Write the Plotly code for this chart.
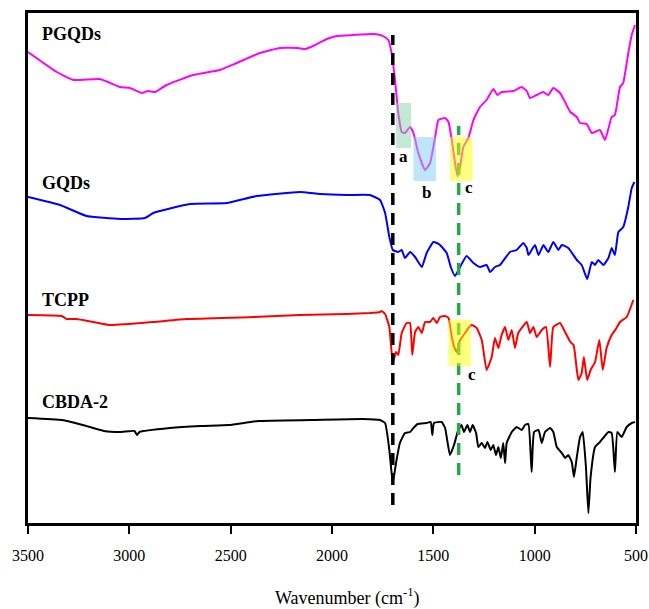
import plotly.graph_objects as go

# ---------------- data (transmittance, arbitrary offset units) ----------------
pgqds_wn = [3500, 3358, 3276, 3145, 3046, 2997, 2939, 2908, 2873, 2816, 2685, 2553, 2470, 2355,
            2257, 2168, 2133, 2093, 2026, 1977, 1896, 1798, 1763, 1740, 1722, 1706, 1689, 1673,
            1656, 1640, 1615, 1598, 1574, 1541, 1516, 1491, 1475, 1442, 1425, 1409, 1393, 1381,
            1368, 1352, 1327, 1302, 1270, 1237, 1204, 1184, 1163, 1105, 1064, 1039, 1023, 990,
            957, 933, 908, 875, 850, 824, 792, 776, 743, 718, 678, 653, 620, 604, 579, 563, 538,
            521, 505]
pgqds_t = [471, 451, 443, 444, 436, 435, 430, 432, 431, 438, 448, 453, 460, 470,
           475, 475, 474, 477, 484, 487, 488, 489, 488, 486, 483, 470, 443, 410,
           391, 390, 396, 390, 370, 353, 360, 386, 403, 405, 401, 383, 360, 347,
           356, 376, 385, 403, 416, 423, 434, 428, 431, 432, 436, 432, 425, 428,
           431, 428, 435, 430, 421, 411, 406, 400, 399, 390, 393, 383, 406, 408, 436, 440, 470,
           488, 498]

gqds_wn = [3500, 3342, 3211, 3046, 2923, 2882, 2701, 2520, 2372, 2158, 2059, 1928, 1813, 1763,
           1738, 1717, 1700, 1673, 1656, 1640, 1615, 1590, 1557, 1533, 1500, 1483, 1467, 1434,
           1414, 1393, 1368, 1336, 1302, 1270, 1237, 1220, 1196, 1171, 1122, 1089, 1056, 1039,
           1031, 1015, 998, 981, 957, 933, 908, 883, 866, 834, 792, 768, 741, 718, 702, 686,
           661, 636, 620, 604, 587, 563, 538, 521, 508]
gqds_t = [326, 318, 307, 304, 305, 310, 319, 320, 327, 331, 329, 328, 328, 323,
          310, 286, 273, 271, 273, 265, 271, 266, 256, 270, 281, 280, 278, 270,
          256, 247, 256, 267, 260, 256, 258, 251, 256, 258, 271, 273, 280, 275,
          268, 273, 278, 268, 278, 271, 281, 273, 278, 275, 263, 258, 244, 261, 258, 263,
          258, 265, 275, 268, 291, 296, 316, 335, 341]

tcpp_wn = [3500, 3334, 3309, 3260, 3095, 2882, 2717, 2388, 2158, 1928, 1813, 1763, 1755, 1738,
           1717, 1700, 1684, 1673, 1656, 1632, 1615, 1604, 1590, 1574, 1557, 1541, 1516, 1500,
           1483, 1467, 1442, 1425, 1409, 1397, 1385, 1368, 1343, 1327, 1311, 1286, 1261, 1237,
           1212, 1196, 1179, 1163, 1146, 1130, 1113, 1097, 1081, 1039, 1023, 1006, 990, 965,
           944, 924, 908, 875, 850, 824, 808, 792, 784, 768, 757, 741, 724, 702, 681, 664,
           645, 620, 596, 579, 546, 513]
tcpp_t = [208, 207, 204, 204, 198, 201, 204, 206, 208, 209, 210, 211, 212, 209,
          196, 160, 171, 168, 190, 200, 200, 168, 191, 196, 190, 201, 201, 205,
          200, 206, 207, 205, 186, 176, 171, 183, 190, 195, 198, 195, 183, 153,
          166, 185, 175, 188, 196, 183, 193, 175, 190, 201, 190, 196, 186, 193,
          196, 156, 196, 200, 191, 181, 178, 153, 143, 150, 166, 143, 153, 161, 183, 153,
          175, 188, 195, 201, 206, 223]

cbda_wn = [3500, 3332, 3230, 3125, 3040, 2975, 2962, 2950, 2800, 2650, 2508, 2364, 2100, 1850,
           1763, 1738, 1717, 1700, 1684, 1665, 1640, 1615, 1598, 1578, 1533, 1513, 1505, 1497,
           1459, 1442, 1418, 1398, 1377, 1361, 1349, 1332, 1319, 1306, 1289, 1278, 1261, 1245,
           1233, 1217, 1204, 1191, 1179, 1167, 1155, 1146, 1138, 1113, 1089, 1064, 1048, 1031,
           1015, 1003, 981, 965, 949, 924, 908, 891, 866, 850, 834, 817, 806, 792, 776, 763,
           747, 735, 724, 702, 678, 658, 636, 620, 604, 592, 571, 546, 521, 505]
cbda_t = [105, 103, 98, 92, 91, 92, 88, 91, 95, 97, 98, 102, 103, 104,
          103, 100, 73, 40, 60, 80, 90, 91, 95, 99, 100, 101, 88, 100,
          101, 95, 68, 78, 93, 98, 91, 98, 91, 98, 90, 76, 80, 75,
          81, 73, 78, 68, 76, 65, 80, 60, 80, 91, 96, 93, 98, 99,
          51, 91, 93, 80, 91, 95, 91, 76, 70, 65, 68, 61, 46, 66, 86, 91,
          56, 10, 46, 76, 81, 86, 91, 90, 51, 91, 86, 96, 100, 101]

series_names = ["PGQDs", "GQDs", "TCPP", "CBDA-2"]
series_colors = ["#FF00FF", "#0000FF", "#FF0000", "#000000"]
series_wn = [pgqds_wn, gqds_wn, tcpp_wn, cbda_wn]
series_t = [pgqds_t, gqds_t, tcpp_t, cbda_t]
label_y = [489, 340, 223, 121]

tick_vals = [3500, 3000, 2500, 2000, 1500, 1000, 500]

# ---------------- figure ----------------
fig = go.Figure()
for name, col, wn, t in zip(series_names, series_colors, series_wn, series_t):
    fig.add_trace(go.Scatter(x=wn, y=t, mode="lines", name=name,
                             line=dict(color=col, width=2, shape="spline", smoothing=0.4),
                             showlegend=False))

serif = "Liberation Serif"

for name, ly in zip(series_names, label_y):
    fig.add_annotation(x=3441, y=ly, xref="x", yref="y", text="<b>%s</b>" % name,
                       showarrow=False, xanchor="left", yanchor="middle",
                       font=dict(family=serif, size=18, color="black"))

# dashed reference lines
fig.add_shape(type="line", x0=1700, x1=1700, y0=18, y1=488, xref="x", yref="y",
              line=dict(color="black", width=3.5, dash="12px,8px"), layer="above")
fig.add_shape(type="line", x0=1375, x1=1375, y0=48, y1=397, xref="x", yref="y",
              line=dict(color="#22AA44", width=3.5, dash="12px,8px"), layer="above")

# highlight boxes
boxes = [
    (1685, 1610, 375, 420, "#87D1A7"),
    (1598, 1487, 342, 386, "#7DCDF2"),
    (1418, 1306, 342, 386, "#FFFF00"),
    (1425, 1315, 157, 203, "#FFFF00"),
]
for x0, x1, y0, y1, c in boxes:
    fig.add_shape(type="rect", x0=x0, x1=x1, y0=y0, y1=y1, xref="x", yref="y",
                  fillcolor=c, opacity=0.5, line=dict(width=0), layer="above")

letters = [("a", 1645, 367), ("b", 1536, 331), ("c", 1324, 336), ("c", 1309, 149)]
for txt, lx, ly in letters:
    fig.add_annotation(x=lx, y=ly, xref="x", yref="y", text="<b>%s</b>" % txt,
                       showarrow=False, font=dict(family=serif, size=17, color="black"))

fig.add_annotation(x=0.526, y=-0.145, xref="paper", yref="paper",
                   xanchor="center", yanchor="middle",
                   text="Wavenumber (cm<sup>-1</sup>)", showarrow=False,
                   font=dict(family=serif, size=18, color="black"))

fig.update_xaxes(range=[3500, 500], tickvals=tick_vals, ticks="outside", ticklen=8,
                 tickwidth=2, tickcolor="black", showline=True, linecolor="black",
                 linewidth=2.5, mirror=True, showgrid=False, zeroline=False,
                 ticklabelstandoff=8, automargin=False,
                 tickfont=dict(family=serif, size=16, color="black"))
fig.update_yaxes(range=[0, 510], showticklabels=False, ticks="", showline=True,
                 linecolor="black", linewidth=2.5, mirror=True, showgrid=False,
                 zeroline=False, automargin=False)

fig.update_layout(width=649, height=609, plot_bgcolor="white", paper_bgcolor="white",
                  margin=dict(l=28, r=13, t=13, b=86))

# remove the browser's default body margin so the figure fills the window exactly
fig.write_html("out.html", config={"displayModeBar": False},
               post_script="document.body.style.margin='0';document.body.style.overflow='hidden';")
